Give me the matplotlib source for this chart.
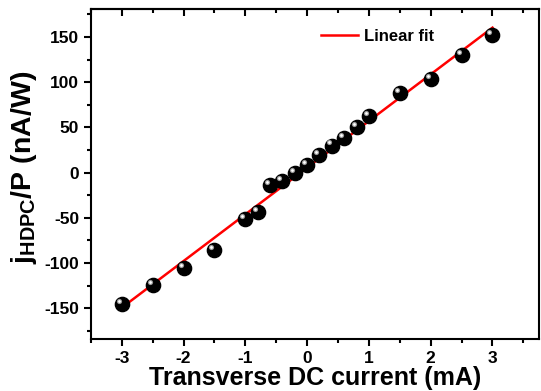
import numpy as np
import matplotlib
matplotlib.use("Agg")
import matplotlib.pyplot as plt
from matplotlib.transforms import offset_copy

plt.rcParams['font.family'] = ['Liberation Sans', 'DejaVu Sans']
plt.rcParams['font.weight'] = 'bold'
plt.rcParams['mathtext.default'] = 'regular'
plt.rcParams['axes.unicode_minus'] = False

current = [-3, -2.5, -2, -1.5, -1, -0.8, -0.6, -0.4, -0.2, 0,
           0.2, 0.4, 0.6, 0.8, 1, 1.5, 2, 2.5, 3]
signal = [-145, -124, -106, -86, -51, -44, -14, -9, 0, 8,
          20, 30, 38, 50, 63, 88, 104, 130, 152]
xticks = [-3, -2, -1, 0, 1, 2, 3]
yticks = [-150, -100, -50, 0, 50, 100, 150]

x = np.array(current)
y = np.array(signal)
slope, icpt = np.polyfit(x, y, 1)
xfit = np.array([x.min(), x.max()])

fig = plt.figure(figsize=(5.41, 3.91), dpi=100)
ax = fig.add_axes([0.168, 0.133, 0.828, 0.844])

ax.plot(xfit, slope * xfit + icpt, color='red', lw=1.8, label='Linear fit', zorder=2)

# black spheres with a small highlight
ax.scatter(x, y, s=105, color='black', zorder=3)
hl = offset_copy(ax.transData, fig=fig, x=-2.2, y=2.2, units='points')
ax.scatter(x, y, s=14, color='#9a9a9a', transform=hl, zorder=4, linewidths=0)
ax.scatter(x, y, s=4, color='white', transform=hl, zorder=5, linewidths=0)

ax.set_xlim(-3.5, 3.75)
ax.set_ylim(-184, 181)
ax.set_xticks(xticks)
ax.set_yticks(yticks)
ax.set_xticks(np.arange(-3.5, 3.6, 0.5), minor=True)
ax.set_yticks(np.arange(-175, 180, 25), minor=True)

ax.tick_params(axis='both', which='major', labelsize=12.5, width=1.5, length=5, direction='out')
ax.tick_params(axis='both', which='minor', width=1.5, length=3, direction='out')
for sp in ax.spines.values():
    sp.set_linewidth(1.5)

# top ticks point inward
ax2 = ax.secondary_xaxis('top')
ax2.set_xticks(xticks)
ax2.set_xticks(np.arange(-3.5, 3.6, 0.5), minor=True)
ax2.tick_params(which='major', direction='in', length=5, width=1.5, labeltop=False)
ax2.tick_params(which='minor', direction='in', length=3, width=1.5)
ax2.spines['top'].set_linewidth(1.5)

ax.set_xlabel('Transverse DC current (mA)', fontsize=18, fontweight='bold', labelpad=0)
ax.set_ylabel(r'$j_{HDPC}$/P (nA/W)', fontsize=20.5, fontweight='bold')
ax.yaxis.set_label_coords(-0.115, 0.52)

ax.legend(loc='upper left', bbox_to_anchor=(0.48, 0.985), frameon=False,
          fontsize=12, handlelength=2.2, handletextpad=0.4)

fig.savefig('out.png', dpi=100)
